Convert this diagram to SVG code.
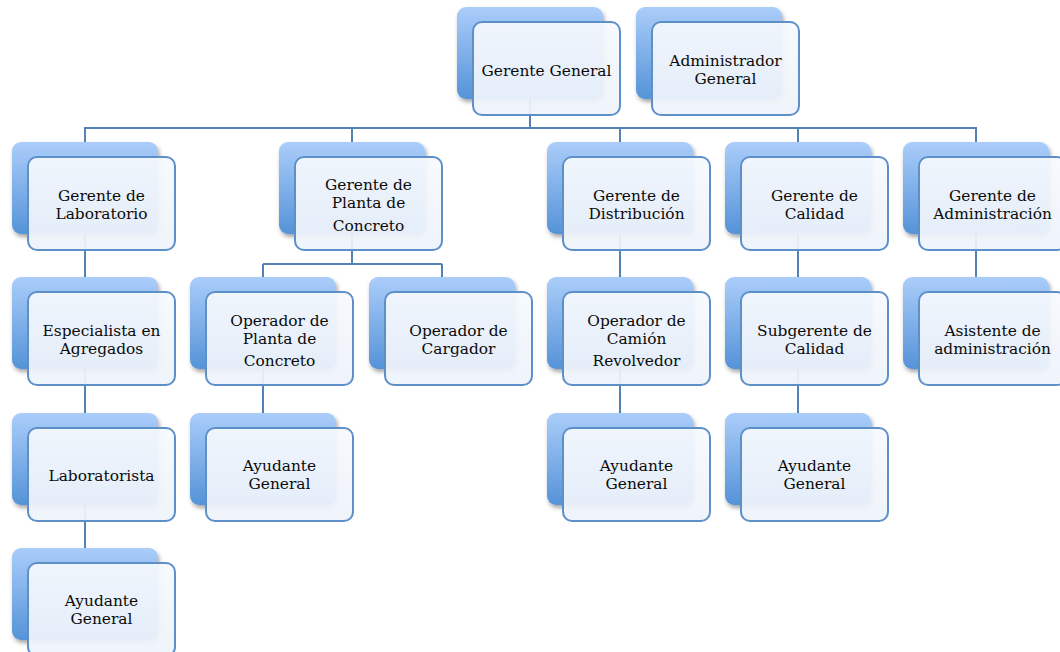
<svg xmlns="http://www.w3.org/2000/svg" width="1060" height="652" viewBox="0 0 1060 652">
<defs>
<linearGradient id="gBack" x1="0" y1="0" x2="0" y2="1">
<stop offset="0" stop-color="#abcdfa"/>
<stop offset="1" stop-color="#5593d8"/>
</linearGradient>
<linearGradient id="gFront" x1="0" y1="0" x2="0" y2="1">
<stop offset="0" stop-color="#f6f9fd"/>
<stop offset="1" stop-color="#eef3fb"/>
</linearGradient>
<filter id="sh" x="-10%" y="-10%" width="125%" height="130%">
<feDropShadow dx="1.5" dy="3" stdDeviation="2" flood-color="#000" flood-opacity="0.35"/>
</filter>
</defs>
<style>
.back{fill:url(#gBack);filter:url(#sh);}
.front{fill:url(#gFront);fill-opacity:0.93;stroke:#5d8fc8;stroke-width:2;}
.conn{fill:none;stroke:#5581b9;stroke-width:2;}
text{font-family:"DejaVu Serif","Liberation Serif",serif;font-size:15.4px;fill:#0a0a0a;text-anchor:middle;}
</style>
<rect width="1060" height="652" fill="#fff"/>
<g id="connectors">
<path class="conn" d="M530,99 V128 M84,128 H977 M85,128 V142 M352,128 V142 M620,128 V142 M798,128 V142 M976,128 V142"/>
<path class="conn" d="M85,234 V277 M85,369 V413 M85,505 V548"/>
<path class="conn" d="M352,234 V264 M263,264 H442 M263,264 V277 M442,264 V277 M263,369 V413"/>
<path class="conn" d="M620,234 V277 M620,369 V413"/>
<path class="conn" d="M798,234 V277 M798,369 V413"/>
<path class="conn" d="M976,234 V277"/>
</g>
<g id="gerente-general">
<rect class="back" x="457" y="7" width="146" height="92" rx="9"/>
<rect class="front" x="473" y="22" width="147" height="93" rx="9"/>
<text x="546.5" y="76">Gerente General</text>
</g>
<g id="administrador-general">
<rect class="back" x="636" y="7" width="146" height="92" rx="9"/>
<rect class="front" x="652" y="22" width="147" height="93" rx="9"/>
<text x="725.5" y="65.5">Administrador</text>
<text x="725.5" y="83.5">General</text>
</g>
<g id="gerente-laboratorio">
<rect class="back" x="12" y="142" width="146" height="92" rx="9"/>
<rect class="front" x="28" y="157" width="147" height="93" rx="9"/>
<text x="101.5" y="200.5">Gerente de</text>
<text x="101.5" y="218.5">Laboratorio</text>
</g>
<g id="gerente-planta">
<rect class="back" x="279" y="142" width="146" height="92" rx="9"/>
<rect class="front" x="295" y="157" width="147" height="93" rx="9"/>
<text x="368.5" y="190">Gerente de</text>
<text x="368.5" y="208">Planta de</text>
<text x="368.5" y="231">Concreto</text>
</g>
<g id="gerente-distribucion">
<rect class="back" x="547" y="142" width="146" height="92" rx="9"/>
<rect class="front" x="563" y="157" width="147" height="93" rx="9"/>
<text x="636.5" y="200.5">Gerente de</text>
<text x="636.5" y="218.5">Distribución</text>
</g>
<g id="gerente-calidad">
<rect class="back" x="725" y="142" width="146" height="92" rx="9"/>
<rect class="front" x="741" y="157" width="147" height="93" rx="9"/>
<text x="814.5" y="200.5">Gerente de</text>
<text x="814.5" y="218.5">Calidad</text>
</g>
<g id="gerente-administracion">
<rect class="back" x="903" y="142" width="146" height="92" rx="9"/>
<rect class="front" x="919" y="157" width="147" height="93" rx="9"/>
<text x="992.5" y="200.5">Gerente de</text>
<text x="992.5" y="218.5">Administración</text>
</g>
<g id="especialista-agregados">
<rect class="back" x="12" y="277" width="146" height="92" rx="9"/>
<rect class="front" x="28" y="292" width="147" height="93" rx="9"/>
<text x="101.5" y="336">Especialista en</text>
<text x="101.5" y="354">Agregados</text>
</g>
<g id="operador-planta">
<rect class="back" x="190" y="277" width="146" height="92" rx="9"/>
<rect class="front" x="206" y="292" width="147" height="93" rx="9"/>
<text x="279.5" y="326">Operador de</text>
<text x="279.5" y="344">Planta de</text>
<text x="279.5" y="366">Concreto</text>
</g>
<g id="operador-cargador">
<rect class="back" x="369" y="277" width="146" height="92" rx="9"/>
<rect class="front" x="385" y="292" width="147" height="93" rx="9"/>
<text x="458.5" y="336">Operador de</text>
<text x="458.5" y="354">Cargador</text>
</g>
<g id="operador-camion">
<rect class="back" x="547" y="277" width="146" height="92" rx="9"/>
<rect class="front" x="563" y="292" width="147" height="93" rx="9"/>
<text x="636.5" y="326">Operador de</text>
<text x="636.5" y="344">Camión</text>
<text x="636.5" y="366">Revolvedor</text>
</g>
<g id="subgerente-calidad">
<rect class="back" x="725" y="277" width="146" height="92" rx="9"/>
<rect class="front" x="741" y="292" width="147" height="93" rx="9"/>
<text x="814.5" y="336">Subgerente de</text>
<text x="814.5" y="354">Calidad</text>
</g>
<g id="asistente-administracion">
<rect class="back" x="903" y="277" width="146" height="92" rx="9"/>
<rect class="front" x="919" y="292" width="147" height="93" rx="9"/>
<text x="992.5" y="336">Asistente de</text>
<text x="992.5" y="354">administración</text>
</g>
<g id="laboratorista">
<rect class="back" x="12" y="413" width="146" height="92" rx="9"/>
<rect class="front" x="28" y="428" width="147" height="93" rx="9"/>
<text x="101.5" y="481">Laboratorista</text>
</g>
<g id="ayudante-planta">
<rect class="back" x="190" y="413" width="146" height="92" rx="9"/>
<rect class="front" x="206" y="428" width="147" height="93" rx="9"/>
<text x="279.5" y="471">Ayudante</text>
<text x="279.5" y="489">General</text>
</g>
<g id="ayudante-distribucion">
<rect class="back" x="547" y="413" width="146" height="92" rx="9"/>
<rect class="front" x="563" y="428" width="147" height="93" rx="9"/>
<text x="636.5" y="471">Ayudante</text>
<text x="636.5" y="489">General</text>
</g>
<g id="ayudante-calidad">
<rect class="back" x="725" y="413" width="146" height="92" rx="9"/>
<rect class="front" x="741" y="428" width="147" height="93" rx="9"/>
<text x="814.5" y="471">Ayudante</text>
<text x="814.5" y="489">General</text>
</g>
<g id="ayudante-laboratorio">
<rect class="back" x="12" y="548" width="146" height="92" rx="9"/>
<rect class="front" x="28" y="563" width="147" height="93" rx="9"/>
<text x="101.5" y="606">Ayudante</text>
<text x="101.5" y="624">General</text>
</g>
</svg>
